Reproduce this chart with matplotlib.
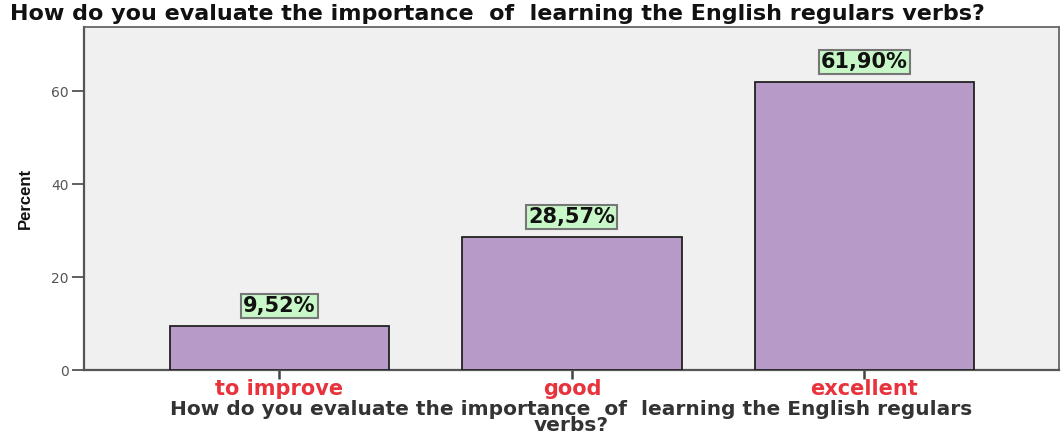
import matplotlib
matplotlib.use("Agg")
import matplotlib.pyplot as plt

categories = ["to improve", "good", "excellent"]
percents = [9.52, 28.57, 61.90]
labels = ["9,52%", "28,57%", "61,90%"]
yticks = [0, 20, 40, 60]
title = "How do you evaluate the importance  of  learning the English regulars verbs?"
xlabel = "How do you evaluate the importance  of  learning the English regulars\nverbs?"

plt.rcParams['font.family'] = ['DejaVu Sans']

fig = plt.figure(figsize=(10.63, 4.36), dpi=100)
W, H = 1063, 436
left, right, top, bottom = 84, 1059, 27, 370
ax = fig.add_axes([left / W, 1 - bottom / H, (right - left) / W, (bottom - top) / H])
ax.set_facecolor("#F0F0F0")

x = list(range(len(categories)))
ax.bar(x, percents, width=0.75, color="#B89AC8", edgecolor="#222222", linewidth=1.3, zorder=3)
for xi, v, lab in zip(x, percents, labels):
    ax.text(xi, v + 4.3, lab, ha="center", va="center", fontsize=15, fontweight="bold",
            color="#111111", zorder=4,
            bbox=dict(boxstyle="square,pad=0.1", facecolor="#C8F8C8", edgecolor="#777777", linewidth=1.5))

ax.set_xlim(-0.668, 2.665)
ax.set_ylim(0, 73.8)
ax.set_yticks(yticks)
ax.set_yticklabels([str(t) for t in yticks], fontsize=10, color="#555555")
ax.set_xticks(x)
ax.set_xticklabels(categories, fontsize=15, fontweight="bold", color="#E8333C")
ax.tick_params(axis="y", length=9, width=1.2, color="#444444", pad=2)
ax.tick_params(axis="x", length=6.5, width=1.8, color="#444444", pad=0)
for s in ["left", "bottom"]:
    ax.spines[s].set_color("#555555")
    ax.spines[s].set_linewidth(1.6)
for s in ["top", "right"]:
    ax.spines[s].set_color("#666666")
    ax.spines[s].set_linewidth(1.3)

ax.set_ylabel("Percent", fontsize=12, fontweight="bold", color="#111111", labelpad=13,
              family="Liberation Sans")
ax.set_xlabel(xlabel, fontsize=14.5, fontweight="bold", color="#333333", labelpad=1, linespacing=0.8)

fig.text(10 / W, 1 - 14 / H, title, ha="left", va="center", fontsize=16, fontweight="bold",
         color="#111111")

fig.savefig("out.png", dpi=100)
